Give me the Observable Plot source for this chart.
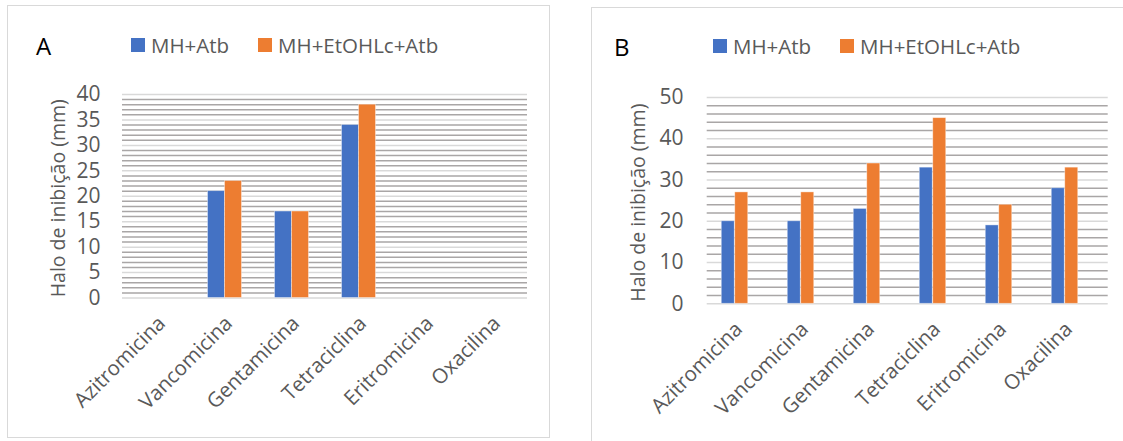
<!DOCTYPE html>
<html><head><meta charset="utf-8">
<script src="https://cdn.jsdelivr.net/npm/d3@7"></script>
<script src="https://cdn.jsdelivr.net/npm/@observablehq/plot@0.6"></script>
<style>
body{margin:0;background:#fff;font-family:"Open Sans",sans-serif;}
#root{position:relative;width:1123px;height:441px;overflow:hidden;background:#fff}
.panel{position:absolute;border:1.5px solid #d9d9d9;box-sizing:border-box;}
.letter{position:absolute;font-size:24px;line-height:24px;color:#000;}
.leg{position:absolute;display:flex;align-items:center;font-size:20.5px;line-height:20px;color:#595959;white-space:nowrap}
.sw{width:14px;height:14px;margin-right:6px;display:inline-block}
</style></head><body><div id="root"></div>
<script>
// ---- data ----
const drugs = ["Azitromicina","Vancomicina","Gentamicina","Tetraciclina","Eritromicina","Oxacilina"];
const seriesNames = ["MH+Atb","MH+EtOHLc+Atb"];
const seriesColors = ["#4472C4","#ED7D31"];
const aMH = [0,21,17,34,0,0];
const aEt = [0,23,17,38,0,0];
const bMH = [20,20,23,33,19,28];
const bEt = [27,27,34,45,24,33];
const ticksA = [0,5,10,15,20,25,30,35,40];
const ticksB = [0,10,20,30,40,50];
const yLabel = "Halo de inibição (mm)";
const panelLetters = ["A","B"];

const root = document.getElementById("root");

function addDiv(cls, css, html){
  const d = document.createElement("div");
  d.className = cls;
  Object.assign(d.style, css);
  if (html !== undefined) d.innerHTML = html;
  root.appendChild(d);
  return d;
}

// panel frames
addDiv("panel", {left:"7px", top:"5px", width:"543px", height:"433px"});
addDiv("panel", {left:"591px", top:"7px", width:"560px", height:"460px"});

// letters
addDiv("letter", {left:"36px", top:"34px"}, panelLetters[0]);
addDiv("letter", {left:"614px", top:"35px"}, panelLetters[1]);

// legends
function legend(x, y){
  const d = addDiv("leg", {left:x+"px", top:y+"px"});
  seriesNames.forEach((s,i)=>{
    const it = document.createElement("span");
    it.style.display="flex"; it.style.alignItems="center";
    it.style.marginRight = i===0 ? "29px" : "0";
    it.innerHTML = `<span class="sw" style="background:${seriesColors[i]}"></span><span>${s}</span>`;
    d.appendChild(it);
  });
}
legend(131, 35);
legend(713, 36);

function makePlot(cfg){
  const minor = d3.range(0, cfg.max + 1e-9, cfg.minorStep).filter(v => !cfg.ticks.includes(v));
  const rows = drugs.map((d,i)=>({drug:d, mh:cfg.mh[i], et:cfg.et[i]}));
  const svg = Plot.plot({
    width: cfg.width, height: 441,
    marginLeft: cfg.frameLeft, marginRight: cfg.width - cfg.frameRight,
    marginTop: cfg.yTop, marginBottom: 441 - cfg.yZero,
    style: {fontFamily: "'Open Sans', sans-serif", background: "transparent", maxWidth: "none", overflow: "visible"},
    x: {domain: drugs, range: cfg.xRange, paddingInner: cfg.pi, paddingOuter: cfg.pi/2, align: 0.5, axis: null},
    y: {domain: [0, cfg.max], axis: null},
    marks: [
      Plot.ruleY(minor, {stroke: "#a9a6a6", strokeWidth: 1.5}),
      Plot.ruleY(cfg.ticks, {stroke: "#d9d9d9", strokeWidth: 1.5}),
      Plot.barY(rows, {x: "drug", y: "mh", fill: seriesColors[0], dx: -cfg.half, stroke: "white", strokeWidth: 0.8, strokeOpacity: 0.5}),
      Plot.barY(rows, {x: "drug", y: "et", fill: seriesColors[1], dx: cfg.half, stroke: "white", strokeWidth: 0.8, strokeOpacity: 0.5}),
      Plot.axisY({ticks: cfg.ticks, tickSize: 0, tickPadding: cfg.tickPad, fontSize: 21, fill: "#595959", label: null}),
      Plot.axisX({tickRotate: -45, tickSize: 0, tickPadding: 19, dx: 4, dy: 3, fontSize: 20.5, fill: "#595959", label: null}),
      Plot.text([yLabel], {frameAnchor: "left", textAnchor: "middle", rotate: -90, dx: cfg.labelDx, dy: 2, fontSize: 19.5, fill: "#595959"})
    ]
  });
  svg.style.position = "absolute";
  svg.style.left = cfg.left + "px";
  svg.style.top = "0px";
  root.appendChild(svg);
}

makePlot({left:0, width:560, frameLeft:122, frameRight:527, xRange:[122,527], yTop:94, yZero:297.5,
  max:40, ticks:ticksA, minorStep:1, mh:aMH, et:aEt, pi:0.748, half:8.5, tickPad:22, labelDx:-64});
makePlot({left:580, width:543, frameLeft:126.7, frameRight:527.7, xRange:[118.8,520.8], yTop:97, yZero:303.3,
  max:50, ticks:ticksB, minorStep:2, mh:bMH, et:bEt, pi:0.8, half:6.75, tickPad:23.7, labelDx:-68.7});
</script>
</body></html>
